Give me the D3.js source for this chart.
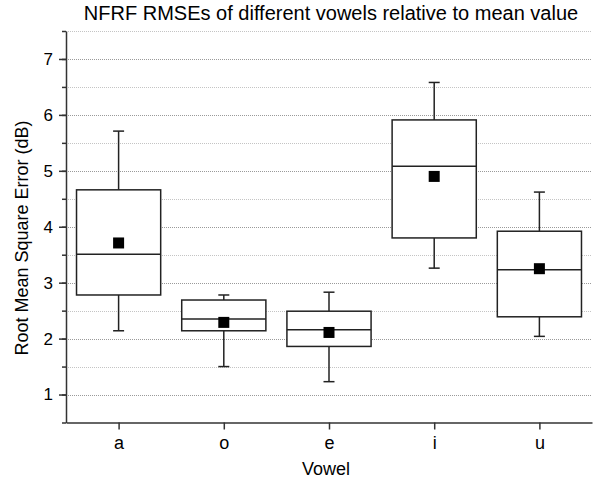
<!DOCTYPE html>
<html>
<head>
<meta charset="utf-8">
<script src="https://cdn.jsdelivr.net/npm/d3@7"></script>
<style>
  body { margin: 0; background: #fff; }
  svg text { font-family: "Liberation Sans", Arial, sans-serif; fill: #000; }
</style>
</head>
<body>
<div id="chart"></div>
<script>
// Box plot data, one entry per vowel
const vowels = ["a", "o", "e", "i", "u"];
const whiskerLow = [2.14, 1.50, 1.23, 3.26, 2.04];
const q1 = [2.78, 2.14, 1.86, 3.80, 2.39];
const median = [3.51, 2.35, 2.16, 5.08, 3.23];
const q3 = [4.66, 2.69, 2.49, 5.91, 3.92];
const whiskerHigh = [5.71, 2.78, 2.83, 6.58, 4.62];
const means = [3.71, 2.29, 2.11, 4.90, 3.25];
const yTicks = [1, 2, 3, 4, 5, 6, 7];

const data = vowels.map((v, i) => ({
  vowel: v, lo: whiskerLow[i], q1: q1[i], med: median[i],
  q3: q3[i], hi: whiskerHigh[i], mean: means[i]
}));

const W = 598, H = 481;
const plot = {left: 66, right: 592, top: 31, bottom: 422.5};

const svg = d3.select("#chart")
  .append("svg")
    .attr("width", W)
    .attr("height", H);

const x = d3.scalePoint()
  .domain(vowels)
  .range([plot.left, plot.right])
  .padding(0.5);

const y = d3.scaleLinear()
  .domain([0.5, 7.5])
  .range([plot.bottom, plot.top]);

const boxW = x.step() * 0.8;
const capW = 11;

// Grid lines every 0.5
const gridVals = d3.range(1, 7.51, 0.5);
svg.append("g")
  .selectAll("line")
  .data(gridVals)
  .join("line")
    .attr("x1", plot.left)
    .attr("x2", plot.right)
    .attr("y1", d => Math.round(y(d)) + 0.5)
    .attr("y2", d => Math.round(y(d)) + 0.5)
    .attr("stroke", d => Number.isInteger(d) ? "#9a9a9a" : "#c4c4c4")
    .attr("stroke-width", 1)
    .attr("stroke-dasharray", "1,1");

// Y axis with minor ticks
const yMinor = svg.append("g")
  .attr("transform", `translate(${plot.left},0)`)
  .call(d3.axisLeft(y).tickValues(d3.range(0.5, 7.51, 0.5)).tickSize(4).tickFormat(""));
yMinor.select(".domain").remove();
yMinor.selectAll("line").attr("stroke", "#333").attr("stroke-width", 1.5);

const yAxis = svg.append("g")
  .attr("transform", `translate(${plot.left},0)`)
  .call(d3.axisLeft(y).tickValues(yTicks).tickFormat(d3.format("d"))
    .tickSize(7).tickPadding(6).tickSizeOuter(0));
yAxis.attr("font-size", null);
yAxis.select(".domain").attr("stroke", "#333").attr("stroke-width", 1.5);
yAxis.selectAll("line").attr("stroke", "#333").attr("stroke-width", 1.5);
yAxis.selectAll("text").style("font-size", "17px");

// X axis
const xAxis = svg.append("g")
  .attr("transform", `translate(0,${plot.bottom})`)
  .call(d3.axisBottom(x).tickSize(7).tickPadding(7).tickSizeOuter(0));
xAxis.attr("font-size", null);
xAxis.select(".domain").attr("stroke", "#333").attr("stroke-width", 1.5);
xAxis.selectAll("line").attr("stroke", "#333").attr("stroke-width", 1.5);
xAxis.selectAll("text").style("font-size", "18px");

// Boxes
const g = svg.append("g")
  .selectAll("g")
  .data(data)
  .join("g")
    .attr("stroke", "#222")
    .attr("stroke-width", 1.5)
    .attr("fill", "none");

// whiskers
g.append("line")
  .attr("x1", d => x(d.vowel)).attr("x2", d => x(d.vowel))
  .attr("y1", d => y(d.hi)).attr("y2", d => y(d.q3));
g.append("line")
  .attr("x1", d => x(d.vowel)).attr("x2", d => x(d.vowel))
  .attr("y1", d => y(d.q1)).attr("y2", d => y(d.lo));
g.append("line")
  .attr("x1", d => x(d.vowel) - capW / 2).attr("x2", d => x(d.vowel) + capW / 2)
  .attr("y1", d => y(d.hi)).attr("y2", d => y(d.hi));
g.append("line")
  .attr("x1", d => x(d.vowel) - capW / 2).attr("x2", d => x(d.vowel) + capW / 2)
  .attr("y1", d => y(d.lo)).attr("y2", d => y(d.lo));

// box
g.append("rect")
  .attr("x", d => x(d.vowel) - boxW / 2)
  .attr("y", d => y(d.q3))
  .attr("width", boxW)
  .attr("height", d => y(d.q1) - y(d.q3))
  .attr("fill", "#fff");

// median
g.append("line")
  .attr("x1", d => x(d.vowel) - boxW / 2).attr("x2", d => x(d.vowel) + boxW / 2)
  .attr("y1", d => y(d.med)).attr("y2", d => y(d.med));

// mean marker
g.append("rect")
  .attr("x", d => x(d.vowel) - 5.5)
  .attr("y", d => y(d.mean) - 5.5)
  .attr("width", 11)
  .attr("height", 11)
  .attr("fill", "#000")
  .attr("stroke", "none");

// Title and axis labels
svg.append("text")
  .attr("x", 331)
  .attr("y", 20)
  .attr("text-anchor", "middle")
  .style("font-size", "20px")
  .text("NFRF RMSEs of different vowels relative to mean value");

svg.append("text")
  .attr("x", 326)
  .attr("y", 475)
  .attr("text-anchor", "middle")
  .style("font-size", "18px")
  .text("Vowel");

svg.append("text")
  .attr("transform", "translate(28,238) rotate(-90)")
  .attr("text-anchor", "middle")
  .style("font-size", "18px")
  .text("Root Mean Square Error (dB)");
</script>
</body>
</html>
